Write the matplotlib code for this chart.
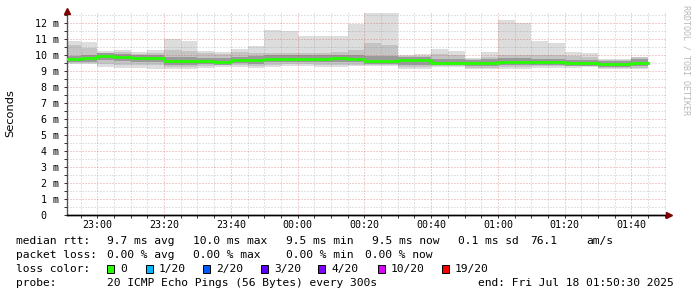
import numpy as np
import pandas as pd
import matplotlib
matplotlib.use("Agg")
import matplotlib.pyplot as plt
import matplotlib.dates as mdates
from matplotlib.patches import Rectangle

plt.rcParams['font.family'] = ['DejaVu Sans Mono']

# 5-minute bins, start times (first one clipped by the time window)
bin_start = pd.date_range("2025-07-17 22:50", periods=35, freq="5min")
bin_end = pd.Timestamp("2025-07-18 01:45")

# median rtt per bin (ms)
median = [9.76, 9.80, 9.96, 9.89, 9.80, 9.79, 9.63, 9.62, 9.62, 9.59, 9.70, 9.70,
          9.76, 9.76, 9.76, 9.76, 9.82, 9.76, 9.60, 9.62, 9.70, 9.66, 9.53, 9.53,
          9.52, 9.52, 9.58, 9.58, 9.58, 9.59, 9.49, 9.49, 9.46, 9.46, 9.52]
# smoke: spread of the 20 pings per bin (ms)
ping_max = [10.88, 10.80, 10.27, 10.30, 10.18, 10.30, 11.00, 10.88, 10.25, 10.20, 10.37, 10.56,
            11.56, 11.50, 11.19, 11.19, 11.19, 11.94, 12.60, 12.60, 10.00, 10.04, 10.37, 10.27,
            9.80, 10.20, 12.19, 12.02, 10.90, 10.77, 10.20, 10.10, 9.73, 9.73, 9.90]
ping_hi2 = [10.60, 10.45, 10.15, 10.20, 10.05, 10.10, 10.30, 10.25, 10.10, 10.05, 10.20, 10.15,
            10.10, 10.10, 10.10, 10.10, 10.20, 10.30, 10.77, 10.60, 9.95, 9.95, 10.05, 10.00,
            9.75, 9.90, 10.00, 10.00, 10.00, 10.00, 9.95, 9.90, 9.70, 9.70, 9.85]
ping_hi3 = [9.95, 9.98, 10.10, 10.08, 10.00, 10.00, 9.85, 9.85, 9.82, 9.82, 9.90, 9.92,
            9.98, 9.98, 9.98, 9.97, 10.00, 9.98, 9.95, 9.95, 9.85, 9.85, 9.72, 9.72,
            9.70, 9.72, 9.80, 9.80, 9.78, 9.78, 9.70, 9.70, 9.62, 9.62, 9.72]
ping_lo3 = [9.55, 9.58, 9.70, 9.65, 9.58, 9.58, 9.40, 9.40, 9.42, 9.40, 9.48, 9.46,
            9.55, 9.56, 9.56, 9.55, 9.58, 9.57, 9.42, 9.42, 9.35, 9.35, 9.36, 9.36,
            9.32, 9.32, 9.38, 9.38, 9.40, 9.40, 9.32, 9.32, 9.27, 9.27, 9.30]
ping_lo2 = [9.48, 9.50, 9.42, 9.38, 9.35, 9.35, 9.28, 9.28, 9.30, 9.35, 9.38, 9.30,
            9.38, 9.42, 9.42, 9.38, 9.38, 9.40, 9.38, 9.40, 9.22, 9.22, 9.32, 9.32,
            9.20, 9.20, 9.25, 9.25, 9.30, 9.30, 9.30, 9.30, 9.20, 9.20, 9.20]
ping_min = [9.42, 9.42, 9.27, 9.20, 9.17, 9.13, 9.13, 9.13, 9.20, 9.27, 9.27, 9.17,
            9.27, 9.33, 9.33, 9.27, 9.27, 9.30, 9.33, 9.33, 9.13, 9.13, 9.27, 9.27,
            9.10, 9.10, 9.15, 9.15, 9.20, 9.20, 9.20, 9.27, 9.10, 9.10, 9.10]

y_ticks = list(range(0, 13))
y_tick_labels = [" 0"] + [f"{v:2d} m" for v in range(1, 13)]

loss_labels = ["0", "1/20", "2/20", "3/20", "4/20", "10/20", "19/20"]
loss_colors = ["#26ff00", "#00b8ff", "#0059ff", "#5e00ff", "#7e00ff", "#dd00ff", "#ff0000"]

W, H = 697, 297
fig = plt.figure(figsize=(W / 100, H / 100), dpi=100)
fig.patch.set_facecolor("white")
ax = fig.add_axes([67 / W, (H - 215) / H, (666.5 - 67) / W, (215 - 13.4) / H])

edges = list(bin_start) + [bin_end]


def band(lo, hi, color):
    ax.fill_between(edges, lo + [lo[-1]], hi + [hi[-1]], step="post",
                    color=color, lw=0, zorder=1)


band(ping_min, ping_max, "#dddddd")
band(ping_lo2, ping_hi2, "#c4c4c4")
band(ping_lo3, ping_hi3, "#9a9a9a")
ax.step(edges, median + [median[-1]], where="post", color="#26ff00", lw=2.0, zorder=3)

ax.set_xlim(pd.Timestamp("2025-07-17 22:50:55"), pd.Timestamp("2025-07-18 01:50:30"))
ax.set_ylim(0, 12.6)

ax.xaxis.set_major_locator(mdates.MinuteLocator(byminute=[0, 20, 40]))
ax.xaxis.set_minor_locator(mdates.MinuteLocator(byminute=range(0, 60, 5)))
ax.xaxis.set_major_formatter(mdates.DateFormatter("%H:%M"))
ax.set_yticks(y_ticks)
ax.set_yticks(np.arange(0.5, 12.6, 1.0), minor=True)
ax.set_yticklabels(y_tick_labels)
for lab in ax.get_yticklabels():
    lab.set_horizontalalignment("left")

ax.tick_params(axis="both", which="both", length=2, width=0.7, labelsize=7.2, colors="#333333",
               labelcolor="black")
ax.tick_params(axis="y", which="major", pad=(67 - 36 - 2) / 1.389)
ax.tick_params(axis="x", which="major", pad=1.5)

ax.grid(which="minor", color="#8c8c8c", alpha=0.5, lw=0.72, linestyle=(0, (1, 2)), zorder=4)
ax.grid(which="major", color="#c03030", alpha=0.45, lw=0.72, linestyle=(0, (1, 2)), zorder=4)
ax.set_axisbelow(False)

for s in ["top", "right"]:
    ax.spines[s].set_visible(False)
ax.spines["left"].set_color("#555555")
ax.spines["bottom"].set_color("black")
ax.spines["left"].set_linewidth(1.0)
ax.spines["bottom"].set_linewidth(1.0)

# axis arrows
ax.plot([0], [1.01], marker="^", ms=4, color="#7f0000", transform=ax.transAxes,
        clip_on=False, zorder=6)
ax.plot([1.005], [0], marker=">", ms=4, color="#7f0000", transform=ax.transAxes,
        clip_on=False, zorder=6)
ax.plot([0, 1.005], [0, 0], color="black", lw=1.0, transform=ax.transAxes, clip_on=False, zorder=5)

fig.text(10 / W, 1 - 113 / H, "Seconds", rotation=90, ha="center", va="center",
         fontsize=8.2, family="DejaVu Sans")
fig.text(686 / W, 1 - 60 / H, "RRDTOOL / TOBI OETIKER", rotation=270, ha="center",
         va="center", fontsize=6, color="#b8b8b8")

fs = 8.1


def put(x, y, s):
    fig.text(x / W, 1 - y / H, s, ha="left", va="center", fontsize=fs)


put(16, 241, "median rtt:")
for x, s in [(107, "9.7 ms avg"), (193, "10.0 ms max"), (286, "9.5 ms min"),
             (372, "9.5 ms now"), (458, "0.1 ms sd"), (530, "76.1"), (586, "am/s")]:
    put(x, 241, s)
put(16, 255, "packet loss:")
for x, s in [(107, "0.00 % avg"), (193, "0.00 % max"), (286, "0.00 % min"), (365, "0.00 % now")]:
    put(x, 255, s)
put(16, 269, "loss color:")
box_x = [107, 146, 203, 261, 318, 378, 442]
for bx, lab, col in zip(box_x, loss_labels, loss_colors):
    fig.add_artist(Rectangle((bx / W, 1 - 273 / H), 7 / W, 8 / H, transform=fig.transFigure,
                             facecolor=col, edgecolor="black", lw=0.7))
    put(bx + 13, 269, lab)
put(16, 283, "probe:")
put(107, 283, "20 ICMP Echo Pings (56 Bytes) every 300s")
put(478, 283, "end: Fri Jul 18 01:50:30 2025")

fig.savefig("out.png", dpi=100, facecolor="white")
